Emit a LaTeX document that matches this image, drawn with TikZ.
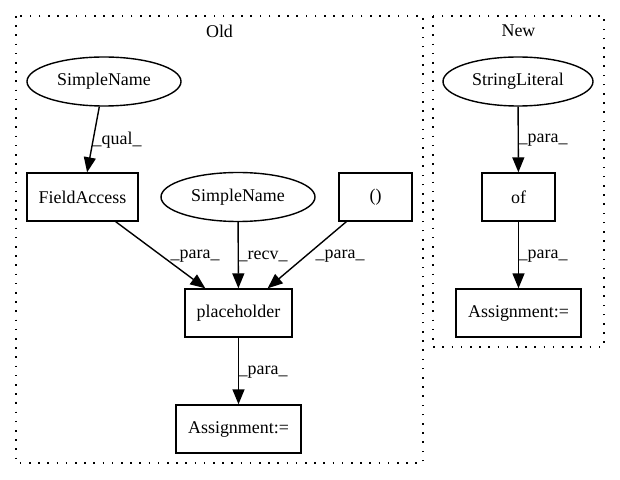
\documentclass[tikz,border=0pt]{standalone}
\usepackage{fontspec}
\setmainfont{Liberation Serif}
\usetikzlibrary{arrows.meta,shapes.geometric}
\begin{document}
\begin{tikzpicture}[x=1bp,y=-1bp,
  every node/.style={font=\fontsize{18}{21}\selectfont},
  box/.style={draw, line width=1.4bp, rectangle, minimum height=48bp, inner sep=0},
  oval/.style={draw, line width=1.4bp, ellipse, minimum height=49bp, inner sep=0},
  edge/.style={draw, line width=1.4bp, -{Triangle[length=15bp,width=12bp]}},
  lbl/.style={inner sep=0, anchor=west},
  cluster/.style={draw, line width=1.6bp, dash pattern=on 1.6bp off 7.6bp}]
\useasboundingbox (0,0) rectangle (620,480);
\draw[cluster] (16,16) rectangle (423,463);
\draw[cluster] (433,16) rectangle (604,347);
\node (oldt) at (219.5,31) {Old};
\node (newt) at (518.5,31) {New};
% Old
\node[oval, minimum width=154bp] (sn1) at (104,81.5) {SimpleName};
\node[box, minimum width=111bp] (fa) at (82.5,197) {FieldAccess};
\node[oval, minimum width=154bp] (sn2) at (238,197) {SimpleName};
\node[box, minimum width=73bp] (par) at (375.5,197) {()};
\node[box, minimum width=107bp] (ph) at (238.5,313) {placeholder};
\node[box, minimum width=125bp] (as1) at (238.5,429) {Assignment:=};
% New
\node[oval, minimum width=150bp] (sl) at (518,81.5) {StringLiteral};
\node[box, minimum width=73bp] (of) at (518.5,197) {of};
\node[box, minimum width=125bp] (as2) at (518.5,313) {Assignment:=};
% edges
\draw[edge] (sn1) -- (fa) node[lbl] (l1) at (92,140) {\_qual\_};
\draw[edge] (fa) -- (ph) node[lbl] (l2) at (170,256) {\_para\_};
\draw[edge] (sn2) -- (ph) node[lbl] (l3) at (238,256) {\_recv\_};
\draw[edge] (par) -- (ph) node[lbl] (l4) at (315,256) {\_para\_};
\draw[edge] (ph) -- (as1) node[lbl] (l5) at (238,372) {\_para\_};
\draw[edge] (sl) -- (of) node[lbl] (l6) at (518,140) {\_para\_};
\draw[edge] (of) -- (as2) node[lbl] (l7) at (518,256) {\_para\_};
\end{tikzpicture}
\end{document}
